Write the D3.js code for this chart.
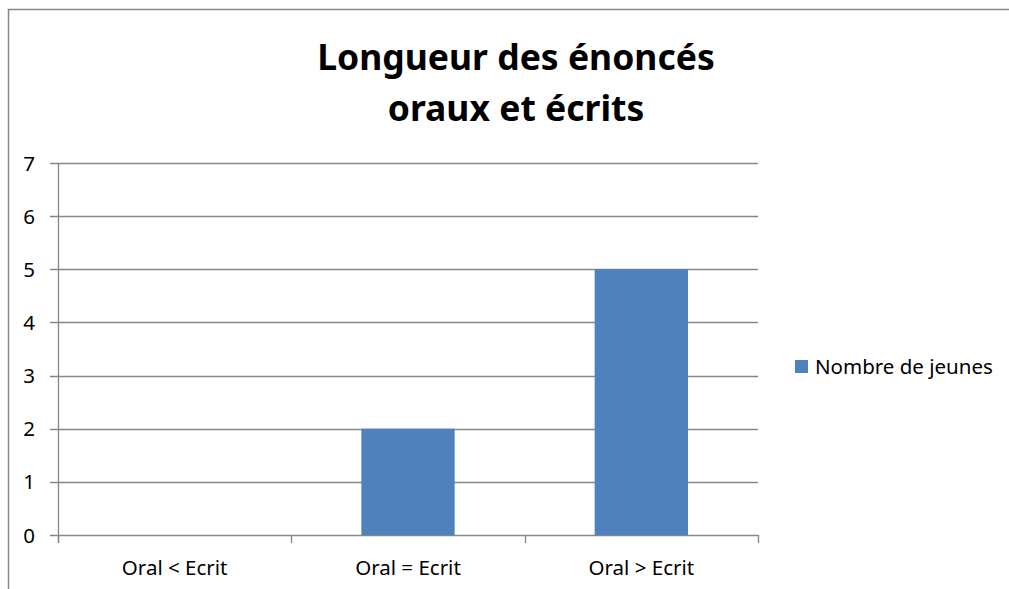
<!DOCTYPE html>
<html lang="fr">
<head>
<meta charset="UTF-8">
<title>Longueur des énoncés oraux et écrits</title>
<style>
  body { margin: 0; background: #fff; }
  text { font-family: "Noto Sans", "Open Sans", sans-serif; fill: #000; }
</style>
</head>
<body>
<script src="https://d3js.org/d3.v7.min.js"></script>
<script>
const categories = ['Oral < Ecrit', 'Oral = Ecrit', 'Oral > Ecrit']
const values = [0, 2, 5]
const seriesName = 'Nombre de jeunes'
const yTicks = [0, 1, 2, 3, 4, 5, 6, 7]
const titleLines = ['Longueur des énoncés', 'oraux et écrits']

const width = 1009
const height = 589
const plot = { left: 58, right: 758, top: 163, bottom: 535 }

const svg = d3.select('body').append('svg')
  .attr('width', width)
  .attr('height', height)

// chart frame (only top and left show in the crop)
svg.append('rect')
  .attr('x', 8.5).attr('y', 9.5)
  .attr('width', 1100).attr('height', 700)
  .attr('fill', 'none')
  .attr('stroke', '#868686')
  .attr('stroke-width', 1.5)

const x = d3.scaleBand()
  .domain(categories)
  .range([plot.left, plot.right])
  .paddingInner(0.6)
  .paddingOuter(0.3)

const y = d3.scaleLinear()
  .domain([0, 7])
  .range([plot.bottom, plot.top])

// gridlines with outward ticks
svg.append('g')
  .selectAll('line')
  .data(yTicks)
  .join('line')
  .attr('x1', plot.left - 8)
  .attr('x2', plot.right)
  .attr('y1', d => Math.round(y(d)) + 0.5)
  .attr('y2', d => Math.round(y(d)) + 0.5)
  .attr('stroke', '#868686')
  .attr('stroke-width', 1.3)

svg.append('g')
  .selectAll('text')
  .data(yTicks)
  .join('text')
  .attr('x', 35)
  .attr('y', d => y(d) + 7.5)
  .attr('text-anchor', 'end')
  .style('font-size', '20.5px')
  .text(d => d)

// bars
svg.append('g')
  .selectAll('rect')
  .data(values)
  .join('rect')
  .attr('x', (d, i) => x(categories[i]))
  .attr('width', x.bandwidth())
  .attr('y', d => y(d))
  .attr('height', d => y(0) - y(d))
  .attr('fill', '#4F81BD')

// y axis line
svg.append('line')
  .attr('x1', plot.left + 0.5).attr('x2', plot.left + 0.5)
  .attr('y1', plot.top).attr('y2', plot.bottom + 8)
  .attr('stroke', '#868686')
  .attr('stroke-width', 1.3)

// x category ticks
const step = (plot.right - plot.left) / categories.length
svg.append('g')
  .selectAll('line')
  .data(d3.range(categories.length + 1))
  .join('line')
  .attr('x1', i => Math.round(plot.left + i * step) + 0.5)
  .attr('x2', i => Math.round(plot.left + i * step) + 0.5)
  .attr('y1', plot.bottom)
  .attr('y2', plot.bottom + 8)
  .attr('stroke', '#868686')
  .attr('stroke-width', 1.3)

svg.append('g')
  .selectAll('text')
  .data(categories)
  .join('text')
  .attr('x', d => x(d) + x.bandwidth() / 2)
  .attr('y', 575)
  .attr('text-anchor', 'middle')
  .style('font-size', '20.5px')
  .text(d => d)

// title
svg.append('g')
  .selectAll('text')
  .data(titleLines)
  .join('text')
  .attr('x', 516)
  .attr('y', (d, i) => 70 + i * 51)
  .attr('text-anchor', 'middle')
  .style('font-size', '35.5px')
  .style('font-weight', 'bold')
  .text(d => d)

// legend
const legend = svg.append('g').attr('transform', 'translate(795, 360)')
legend.append('rect')
  .attr('width', 13).attr('height', 13)
  .attr('fill', '#4F81BD')
legend.append('text')
  .attr('x', 20).attr('y', 13.5)
  .style('font-size', '20.5px')
  .text(seriesName)
</script>
</body>
</html>
